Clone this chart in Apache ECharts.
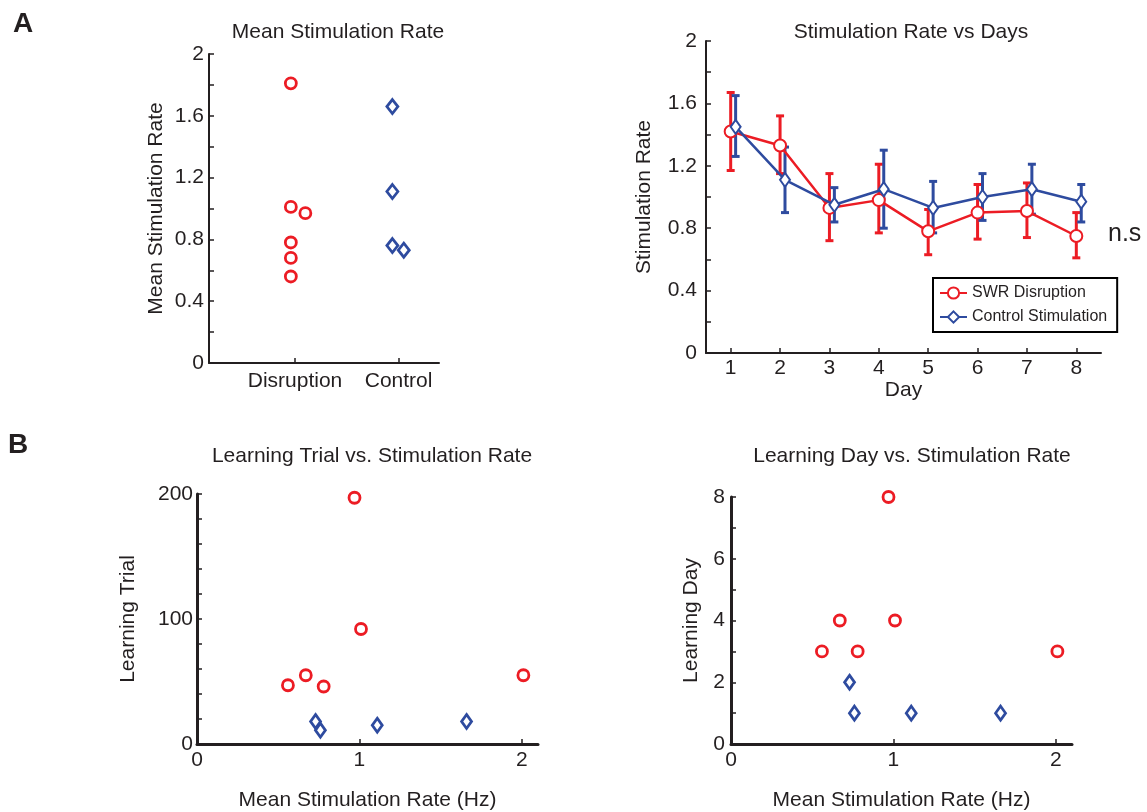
<!DOCTYPE html>
<html>
<head>
<meta charset="utf-8">
<script src="https://cdn.jsdelivr.net/npm/echarts@6/dist/echarts.min.js"></script>
<style>
  html, body { margin: 0; padding: 0; background: #fff; }
  #chart { width: 1147px; height: 812px; }
</style>
</head>
<body>
<div id="chart"></div>
<script>
// ---------- DATA ----------
// Panel A left: mean stimulation rate per animal
const groupLabels = ['Disruption', 'Control'];
const disruptionMeanRate = [1.81, 1.01, 0.97, 0.78, 0.68, 0.56];
const disruptionJitterX = [0.96, 0.96, 1.10, 0.96, 0.96, 0.96];
const controlMeanRate = [1.66, 1.11, 0.76, 0.73];
const controlJitterX = [1.94, 1.94, 1.94, 2.05];

// Panel A right: stimulation rate vs day
const days = [1, 2, 3, 4, 5, 6, 7, 8];
const swrMean = [1.42, 1.33, 0.93, 0.98, 0.78, 0.90, 0.91, 0.75];
const swrLow = [1.17, 1.15, 0.72, 0.77, 0.63, 0.73, 0.74, 0.61];
const swrHigh = [1.67, 1.52, 1.15, 1.21, 0.92, 1.08, 1.09, 0.90];
const ctlMean = [1.45, 1.11, 0.95, 1.05, 0.93, 1.00, 1.05, 0.97];
const ctlLow = [1.26, 0.90, 0.84, 0.80, 0.77, 0.85, 0.89, 0.84];
const ctlHigh = [1.65, 1.32, 1.06, 1.30, 1.10, 1.15, 1.21, 1.08];

// Panel B: per-animal stimulation rate vs learning trial / day
const disruptionRateHz = [0.56, 0.67, 0.78, 0.97, 1.01, 2.01];
const disruptionLearningTrial = [47, 55, 46, 197, 92, 55];
const disruptionLearningDay = [3, 4, 3, 8, 4, 3];
const controlRateHz = [0.73, 0.76, 1.11, 1.66];
const controlLearningTrial = [18, 11, 15, 18];
const controlLearningDay = [2, 1, 1, 1];

// ---------- STYLE ----------
const RED = '#ec1c24';
const BLUE = '#2e4b9f';
const TXT = '#231f20';
const FONT = '"Liberation Sans", Arial, Helvetica, sans-serif';

const chart = echarts.init(document.getElementById('chart'), null, { renderer: 'canvas' });

function zip(a, b) { return a.map((v, i) => [v, b[i]]); }

function yAxisBase(extra) {
  return Object.assign({
    type: 'value',
    axisLine: { show: true, lineStyle: { color: TXT, width: 2 } },
    axisTick: { show: true, inside: true, length: 5, lineStyle: { color: TXT, width: 1.5 } },
    splitLine: { show: false },
    axisLabel: { color: TXT, fontSize: 21, fontFamily: FONT, margin: 5 },
    nameLocation: 'middle',
    nameTextStyle: { color: TXT, fontSize: 21, fontFamily: FONT }
  }, extra);
}
function xAxisBase(extra) {
  return Object.assign({
    type: 'value',
    axisLine: { show: true, onZero: false, lineStyle: { color: TXT, width: 2 } },
    axisTick: { show: true, inside: true, length: 5, lineStyle: { color: TXT, width: 1.5 } },
    splitLine: { show: false },
    axisLabel: { color: TXT, fontSize: 21, fontFamily: FONT, margin: 6 },
    nameLocation: 'middle',
    nameTextStyle: { color: TXT, fontSize: 21, fontFamily: FONT }
  }, extra);
}

function errRender(color) {
  return function (params, api) {
    const x = api.value(0), lo = api.value(1), hi = api.value(2);
    const p1 = api.coord([x, hi]);
    const p2 = api.coord([x, lo]);
    const w = 4;
    const style = { stroke: color, lineWidth: 3 };
    return {
      type: 'group',
      children: [
        { type: 'line', shape: { x1: p1[0], y1: p1[1], x2: p2[0], y2: p2[1] }, style: style },
        { type: 'line', shape: { x1: p1[0] - w, y1: p1[1], x2: p1[0] + w, y2: p1[1] }, style: style },
        { type: 'line', shape: { x1: p2[0] - w, y1: p2[1], x2: p2[0] + w, y2: p2[1] }, style: style }
      ]
    };
  };
}

const ctlOffset = 0.1;
const swrLine = days.map((d, i) => [d, swrMean[i]]);
const ctlLine = days.map((d, i) => [d + ctlOffset, ctlMean[i]]);
const swrErr = days.map((d, i) => [d, swrLow[i], swrHigh[i]]);
const ctlErr = days.map((d, i) => [d + ctlOffset, ctlLow[i], ctlHigh[i]]);

const labelEvery = (step) => (v) => {
  const r = Math.round(v * 1000) / 1000;
  return Math.abs(r / step - Math.round(r / step)) < 1e-6 ? String(r) : '';
};

const hollow = (c) => ({ color: 'rgba(255,255,255,0)', borderColor: c, borderWidth: 2.8, opacity: 1 });

const option = {
  animation: false,
  backgroundColor: '#fff',
  textStyle: { fontFamily: FONT },
  grid: [
    { left: 209, top: 54, width: 230, height: 309 },
    { left: 706, top: 41, width: 395, height: 312 },
    { left: 197, top: 494, width: 341, height: 261 },
    { left: 731, top: 497, width: 341, height: 258 }
  ],
  xAxis: [
    xAxisBase({
      gridIndex: 0, min: 0.17, max: 2.39,
      axisTick: { show: true, inside: true, length: 5, customValues: [1, 2], lineStyle: { color: TXT, width: 1.5 } },
      axisLabel: { color: TXT, fontSize: 21, fontFamily: FONT, margin: 8, customValues: [1, 2],
        formatter: (v) => groupLabels[Math.round(v) - 1] || '' }
    }),
    xAxisBase({
      gridIndex: 1, min: 0.5, max: 8.5, name: 'Day', nameGap: 24,
      axisTick: { show: true, inside: true, length: 5, customValues: days, lineStyle: { color: TXT, width: 1.5 } },
      axisLabel: { color: TXT, fontSize: 21, fontFamily: FONT, margin: 5, customValues: days }
    }),
    xAxisBase({
      gridIndex: 2, min: 0, max: 2.1, name: 'Mean Stimulation Rate (Hz)', nameGap: 46,
      axisLine: { show: true, onZero: false, lineStyle: { color: TXT, width: 3 } },
      axisTick: { show: true, inside: true, length: 5, customValues: [0, 1, 2], lineStyle: { color: TXT, width: 1.5 } },
      axisLabel: { color: TXT, fontSize: 21, fontFamily: FONT, margin: 6, customValues: [0, 1, 2] }
    }),
    xAxisBase({
      gridIndex: 3, min: 0, max: 2.1, name: 'Mean Stimulation Rate (Hz)', nameGap: 46,
      axisLine: { show: true, onZero: false, lineStyle: { color: TXT, width: 3 } },
      axisTick: { show: true, inside: true, length: 5, customValues: [0, 1, 2], lineStyle: { color: TXT, width: 1.5 } },
      axisLabel: { color: TXT, fontSize: 21, fontFamily: FONT, margin: 6, customValues: [0, 1, 2] }
    })
  ],
  yAxis: [
    yAxisBase({
      gridIndex: 0, min: 0, max: 2, interval: 0.2, name: 'Mean Stimulation Rate', nameGap: 42,
      axisLabel: { color: TXT, fontSize: 21, fontFamily: FONT, margin: 5, formatter: labelEvery(0.4) }
    }),
    yAxisBase({
      gridIndex: 1, min: 0, max: 2, interval: 0.2, name: 'Stimulation Rate', nameGap: 51,
      axisLabel: { color: TXT, fontSize: 21, fontFamily: FONT, margin: 9, formatter: labelEvery(0.4) }
    }),
    yAxisBase({
      gridIndex: 2, min: 0, max: 200, interval: 20, name: 'Learning Trial', nameGap: 58,
      axisLine: { show: true, lineStyle: { color: TXT, width: 3 } },
      axisLabel: { color: TXT, fontSize: 21, fontFamily: FONT, margin: 4, formatter: labelEvery(100) }
    }),
    yAxisBase({
      gridIndex: 3, min: 0, max: 8, interval: 1, name: 'Learning Day', nameGap: 29,
      axisLine: { show: true, lineStyle: { color: TXT, width: 3 } },
      axisLabel: { color: TXT, fontSize: 21, fontFamily: FONT, margin: 6, formatter: labelEvery(2) }
    })
  ],
  legend: {
    data: ['SWR Disruption', 'Control Stimulation'],
    orient: 'vertical',
    left: 933, top: 278,
    itemWidth: 27, itemHeight: 14, itemGap: 8,
    padding: [7, 10, 7, 6],
    borderColor: '#000', borderWidth: 2,
    selectedMode: false,
    textStyle: { color: TXT, fontSize: 16, fontFamily: FONT }
  },
  series: [
    // Panel A left
    { type: 'scatter', xAxisIndex: 0, yAxisIndex: 0, symbol: 'circle', symbolSize: 11,
      itemStyle: hollow(RED), data: zip(disruptionJitterX, disruptionMeanRate) },
    { type: 'scatter', xAxisIndex: 0, yAxisIndex: 0, symbol: 'diamond', symbolSize: [11, 14],
      itemStyle: hollow(BLUE), data: zip(controlJitterX, controlMeanRate) },
    // Panel A right
    { type: 'custom', name: 'swrErr', xAxisIndex: 1, yAxisIndex: 1, renderItem: errRender(RED),
      encode: { x: 0, y: [1, 2] }, data: swrErr, z: 2 },
    { type: 'custom', name: 'ctlErr', xAxisIndex: 1, yAxisIndex: 1, renderItem: errRender(BLUE),
      encode: { x: 0, y: [1, 2] }, data: ctlErr, z: 3 },
    { type: 'line', name: 'SWR Disruption', xAxisIndex: 1, yAxisIndex: 1, symbol: 'emptyCircle', symbolSize: 12,
      lineStyle: { color: RED, width: 2.5 }, itemStyle: { color: RED, borderColor: RED, borderWidth: 2.5 },
      data: swrLine, z: 4 },
    { type: 'line', name: 'Control Stimulation', xAxisIndex: 1, yAxisIndex: 1, symbol: 'emptyDiamond', symbolSize: [10, 14],
      lineStyle: { color: BLUE, width: 2.5 }, itemStyle: { color: BLUE, borderColor: BLUE, borderWidth: 2.5 },
      data: ctlLine, z: 5 },
    // Panel B left
    { type: 'scatter', xAxisIndex: 2, yAxisIndex: 2, symbol: 'circle', symbolSize: 11,
      itemStyle: hollow(RED), data: zip(disruptionRateHz, disruptionLearningTrial) },
    { type: 'scatter', xAxisIndex: 2, yAxisIndex: 2, symbol: 'diamond', symbolSize: [10, 14],
      itemStyle: hollow(BLUE), data: zip(controlRateHz, controlLearningTrial) },
    // Panel B right
    { type: 'scatter', xAxisIndex: 3, yAxisIndex: 3, symbol: 'circle', symbolSize: 11,
      itemStyle: hollow(RED), data: zip(disruptionRateHz, disruptionLearningDay) },
    { type: 'scatter', xAxisIndex: 3, yAxisIndex: 3, symbol: 'diamond', symbolSize: [10, 14],
      itemStyle: hollow(BLUE), data: zip(controlRateHz, controlLearningDay) }
  ],
  graphic: [
    { type: 'text', style: { text: 'A', x: 23, y: 24, textAlign: 'center', textVerticalAlign: 'middle',
      font: 'bold 28px ' + FONT, fill: TXT } },
    { type: 'text', style: { text: 'B', x: 18, y: 445, textAlign: 'center', textVerticalAlign: 'middle',
      font: 'bold 28px ' + FONT, fill: TXT } },
    { type: 'text', style: { text: 'Mean Stimulation Rate', x: 338, y: 32, textAlign: 'center', textVerticalAlign: 'middle',
      font: '21px ' + FONT, fill: TXT } },
    { type: 'text', style: { text: 'Stimulation Rate vs Days', x: 911, y: 32, textAlign: 'center', textVerticalAlign: 'middle',
      font: '21px ' + FONT, fill: TXT } },
    { type: 'text', style: { text: 'Learning Trial vs. Stimulation Rate', x: 372, y: 456, textAlign: 'center', textVerticalAlign: 'middle',
      font: '21px ' + FONT, fill: TXT } },
    { type: 'text', style: { text: 'Learning Day vs. Stimulation Rate', x: 912, y: 456, textAlign: 'center', textVerticalAlign: 'middle',
      font: '21px ' + FONT, fill: TXT } },
    { type: 'text', style: { text: 'n.s', x: 1108, y: 222, textAlign: 'left', textVerticalAlign: 'alphabetic',
      font: '25px ' + FONT, fill: TXT } }
  ]
};

chart.setOption(option);
</script>
</body>
</html>
